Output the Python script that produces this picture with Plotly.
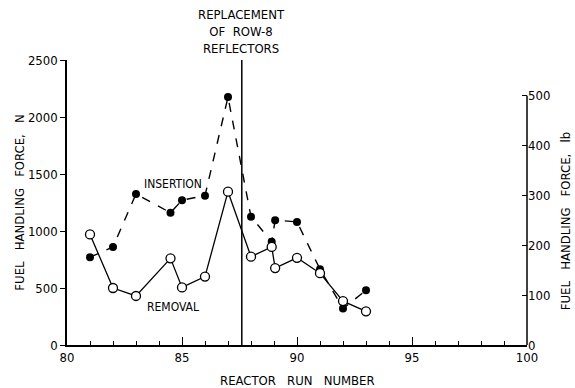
import plotly.graph_objects as go

# Data
run_removal = [81, 82, 83, 84.5, 85, 86, 87, 88, 88.9, 89.05, 90, 91, 92, 93]
removal_n = [970, 500, 430, 760, 505, 600, 1345, 775, 860, 675, 765, 630, 385, 295]
run_insertion = [81, 82, 83, 84.5, 85, 86, 87, 88, 88.9, 89.05, 90, 91, 92, 93]
insertion_n = [770, 860, 1325, 1160, 1270, 1310, 2175, 1125, 905, 1095, 1080, 665, 320, 480]
replacement_run = 87.6
x_ticks = [80, 85, 90, 95, 100]
left_ticks = [0, 500, 1000, 1500, 2000, 2500]
right_ticks = [0, 100, 200, 300, 400, 500]

FONT = "Liberation Sans Narrow, DejaVu Sans Condensed, Arial Narrow, sans-serif"
LBL = dict(family=FONT, size=12, color="black")
TTL = dict(family=FONT, size=13, color="black")

fig = go.Figure()
fig.add_trace(go.Scatter(
    x=run_insertion, y=insertion_n, mode="lines+markers",
    line=dict(color="black", width=1.4, dash="dash"),
    marker=dict(symbol="circle", size=8, color="black"),
    showlegend=False))
fig.add_trace(go.Scatter(
    x=run_removal, y=removal_n, mode="lines+markers",
    line=dict(color="black", width=1.3),
    marker=dict(symbol="circle", size=9, color="white", line=dict(color="black", width=1.3)),
    showlegend=False))
# invisible trace to activate right axis
fig.add_trace(go.Scatter(x=[80], y=[0], yaxis="y2", mode="markers",
                         marker=dict(opacity=0), showlegend=False, hoverinfo="skip"))

# vertical replacement line
fig.add_shape(type="line", xref="x", yref="paper", x0=replacement_run, x1=replacement_run,
              y0=0, y1=1.0, line=dict(color="black", width=1.5))
# right axis line, only up to 500 lb
fig.add_shape(type="line", xref="paper", yref="y2", x0=1, x1=1, y0=0, y1=500,
              line=dict(color="black", width=1.5))

fig.add_annotation(x=replacement_run, xref="x", y=1.0, yref="paper", yanchor="bottom",
                   text="REPLACEMENT<br>OF  ROW-8<br>REFLECTORS", showarrow=False,
                   font=TTL, align="center", yshift=2)
fig.add_annotation(x=84.6, y=1410, text="INSERTION", showarrow=False, font=LBL)
fig.add_annotation(x=84.6, y=330, text="REMOVAL", showarrow=False, font=LBL)
fig.add_annotation(x=-0.104, xref="paper", xanchor="center", y=0.5, yref="paper",
                   textangle=-90, text="FUEL   HANDLING   FORCE,   N", showarrow=False, font=TTL)
fig.add_annotation(x=1.083, xref="paper", xanchor="center", y=0.435, yref="paper",
                   textangle=-90, text="FUEL   HANDLING   FORCE,   lb", showarrow=False, font=TTL)
fig.add_annotation(x=0.5, xref="paper", y=-0.123, yref="paper", yanchor="middle",
                   text="REACTOR   RUN   NUMBER", showarrow=False, font=TTL)

tickfont = dict(family=FONT, size=13, color="black")
fig.update_layout(
    width=575, height=388,
    margin=dict(l=67, r=48, t=60, b=43),
    paper_bgcolor="white", plot_bgcolor="white",
    font=dict(family=FONT, size=13, color="black"),
    xaxis=dict(range=[80, 100], tickvals=x_ticks, ticks="inside", ticklen=8, tickwidth=1.3,
               tickcolor="black", showline=True, linecolor="black", linewidth=1.5,
               showgrid=False, zeroline=False, tickfont=tickfont,
               minor=dict(dtick=1, ticks="inside", ticklen=4, tickcolor="black", tickwidth=1.2)),
    yaxis=dict(range=[0, 2500], tickvals=left_ticks, ticks="outside", ticklen=5, tickwidth=1.3,
               tickcolor="black", showline=True, linecolor="black", linewidth=1.5,
               showgrid=False, zeroline=False, tickfont=tickfont),
    yaxis2=dict(range=[0, 572], tickvals=right_ticks, overlaying="y", side="right",
                ticks="inside", ticklen=5, tickwidth=1.3, tickcolor="black",
                showline=False, showgrid=False, zeroline=False, tickfont=tickfont),
)

fig.write_html("out.html", config={"displayModeBar": False},
               post_script="document.body.style.margin='0';")
